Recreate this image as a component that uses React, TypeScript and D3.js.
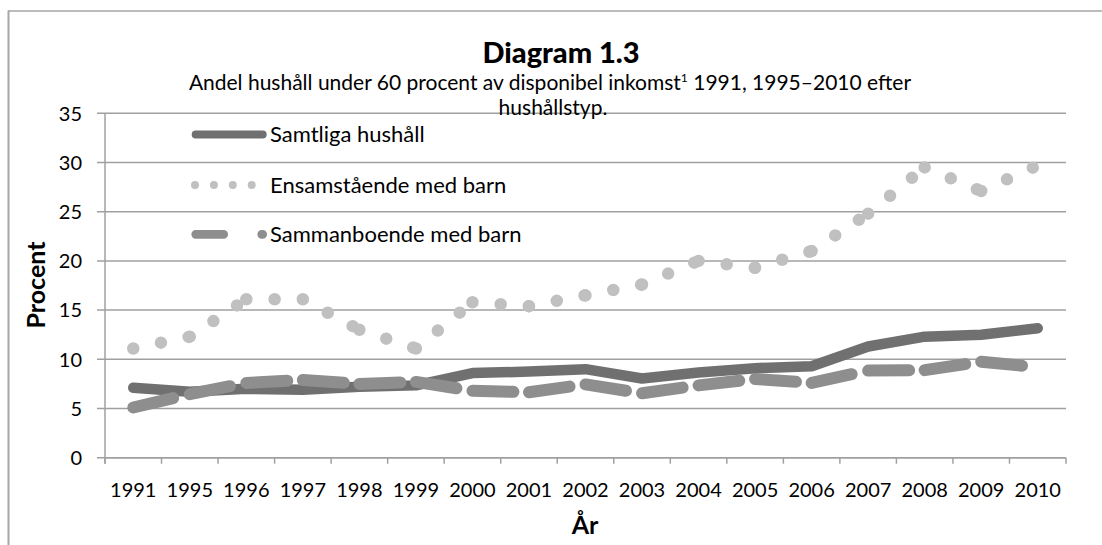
import React from "react";
import * as d3 from "d3";

const years = ["1991","1995","1996","1997","1998","1999","2000","2001","2002","2003","2004","2005","2006","2007","2008","2009","2010"];
const samtliga = [7.1, 6.7, 7.0, 6.9, 7.2, 7.35, 8.6, 8.75, 9.0, 8.05, 8.65, 9.1, 9.3, 11.3, 12.3, 12.5, 13.15];
const ensamstaende = [11.1, 12.3, 16.1, 16.1, 13.0, 11.1, 15.8, 15.4, 16.5, 17.6, 20.0, 19.3, 21.0, 24.8, 29.5, 27.1, 29.7];
const sammanboende = [5.1, 6.45, 7.6, 7.9, 7.5, 7.7, 6.8, 6.65, 7.45, 6.55, 7.35, 8.0, 7.6, 8.85, 8.9, 9.75, 9.2];
const yTicks = [0, 5, 10, 15, 20, 25, 30, 35];
const seriesNames = ["Samtliga hushåll", "Ensamstående med barn", "Sammanboende med barn"];

const FONT = "Lato, 'Open Sans', sans-serif";

export default function App() {
  const W = 1102, H = 545;
  const left = 105, right = 1066, top = 113.3, bottom = 457.7;
  const x = d3.scaleBand<string>().domain(years).range([left, right]).paddingInner(0).paddingOuter(0);
  const y = d3.scaleLinear().domain([0, 35]).range([bottom, top]);
  const cx = (d: string) => (x(d) as number) + x.bandwidth() / 2;

  const pts = (vals: number[]) => vals.map((v, i) => [cx(years[i]), y(v)] as [number, number]);
  const line = d3.line<[number, number]>();

  const segs = (vals: number[]) => {
    const p = pts(vals);
    const out: string[] = [];
    for (let i = 0; i < p.length - 1; i++) out.push(line([p[i], p[i + 1]]) as string);
    return out;
  };

  const grid = "#a0a0a0";
  const cDark = "#707070";
  const cLight = "#c0c0c0";
  const cMid = "#8e8e8e";

  const xTickPos = [...years.map((d) => x(d) as number), right];

  const legendX0 = 195.7, legendX1 = 262.7, legendText = 270;
  const legendY = [134.5, 185, 234.3];

  return (
    <svg width={W} height={H} style={{ position: "absolute", left: 0, top: 0, background: "#fff" }} fontFamily={FONT}>
      <rect x={0} y={0} width={W} height={H} fill="#fff" />
      {/* frame */}
      <line x1={8.5} x2={8.5} y1={10.5} y2={H} stroke="#a6a6a6" strokeWidth={2} />
      <line x1={8} x2={W} y1={11} y2={11} stroke="#a6a6a6" strokeWidth={1.5} />

      {/* gridlines */}
      {yTicks.map((t) => (
        <g key={t}>
          <line x1={left - 8} x2={right} y1={y(t)} y2={y(t)} stroke={grid} strokeWidth={1.5} />
          <text x={82} y={y(t)} dy="0.36em" textAnchor="end" fontSize={20} fill="#000">{t}</text>
        </g>
      ))}
      {/* axes */}
      <line x1={left} x2={left} y1={top} y2={bottom + 6} stroke={grid} strokeWidth={1.5} />
      <line x1={left} x2={right} y1={bottom} y2={bottom} stroke={grid} strokeWidth={1.5} />
      {xTickPos.map((p, i) => (
        <line key={i} x1={p} x2={p} y1={bottom} y2={bottom + 6} stroke={grid} strokeWidth={1.5} />
      ))}
      {years.map((d) => (
        <text key={d} x={cx(d)} y={497} textAnchor="middle" fontSize={20} fill="#000">{d}</text>
      ))}

      {/* series: Samtliga */}
      <path d={line(pts(samtliga)) as string} fill="none" stroke={cDark} strokeWidth={10.5} strokeLinecap="round" strokeLinejoin="round" />
      {/* Ensamstående - dotted per segment */}
      {segs(ensamstaende).map((d, i) => (
        <path key={"e" + i} d={d} fill="none" stroke={cLight} strokeWidth={12.5} strokeLinecap="round" strokeDasharray="0 28.3" />
      ))}
      {/* Sammanboende - dashed per segment */}
      {segs(sammanboende).map((d, i) => (
        <path key={"s" + i} d={d} fill="none" stroke={cMid} strokeWidth={12} strokeLinecap="round" strokeDasharray="41 100" />
      ))}

      {/* legend */}
      <line x1={legendX0} x2={legendX1} y1={legendY[0]} y2={legendY[0]} stroke={cDark} strokeWidth={8} strokeLinecap="round" />
      <line x1={195} x2={253} y1={legendY[1]} y2={legendY[1]} stroke={cLight} strokeWidth={8} strokeLinecap="round" strokeDasharray="0 18.9" />
      <line x1={legendX0} x2={legendX1} y1={legendY[2]} y2={legendY[2]} stroke={cMid} strokeWidth={8.7} strokeLinecap="round" strokeDasharray="28 38" />
      {seriesNames.map((n, i) => (
        <text key={n} x={legendText} y={legendY[i]} dy="0.36em" fontSize={22} fill="#000">{n}</text>
      ))}

      {/* titles */}
      <text x={561} y={63} textAnchor="middle" fontSize={29} fontWeight={900} fill="#000">Diagram 1.3</text>
      <text x={550} y={90} textAnchor="middle" fontSize={21} fill="#000">
        Andel hushåll under 60 procent av disponibel inkomst<tspan dy={-8} fontSize={12}>1</tspan><tspan dy={8}> 1991, 1995–2010 efter</tspan>
      </text>
      <text x={553} y={115} textAnchor="middle" fontSize={21} fill="#000">hushållstyp.</text>

      <text transform={`translate(45, 285) rotate(-90)`} textAnchor="middle" fontSize={25} fontWeight={700} fill="#000">Procent</text>
      <text x={585} y={534} textAnchor="middle" fontSize={25} fontWeight={700} fill="#000">År</text>
    </svg>
  );
}
